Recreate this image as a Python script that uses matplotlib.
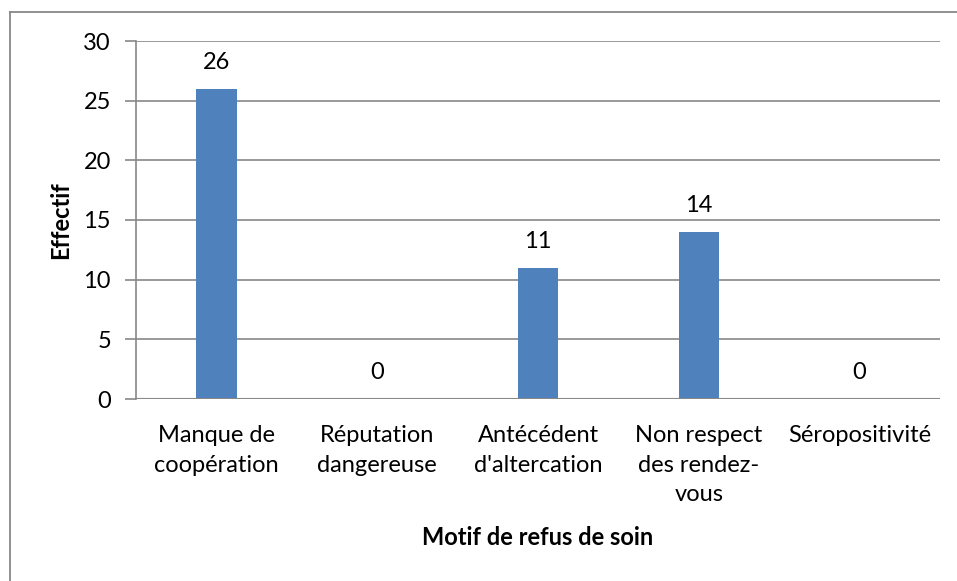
import matplotlib.pyplot as plt
from matplotlib.lines import Line2D

categories = ['Manque de\ncoopération', 'Réputation\ndangereuse', "Antécédent\nd'altercation",
              'Non respect\ndes rendez-\nvous', 'Séropositivité']
effectif = [26, 0, 11, 14, 0]
yticks = [0, 5, 10, 15, 20, 25, 30]

plt.rcParams['font.family'] = ['Lato', 'DejaVu Sans']
fs = 17

W, H = 957, 581
fig = plt.figure(figsize=(W / 100, H / 100), dpi=100)
ax = fig.add_axes([136 / W, 1 - 399 / H, (940 - 136) / W, (399 - 41) / H])

x = list(range(len(categories)))
ax.bar(x, effectif, width=0.25, color='#4F81BD', zorder=3)
for xi, v in zip(x, effectif):
    ax.text(xi, v + 1.3, str(v), ha='center', va='bottom', fontsize=fs)

ax.set_xlim(-0.5, len(categories) - 0.5)
ax.set_ylim(0, 30)
ax.set_yticks(yticks)
ax.set_xticks(x)
ax.set_xticklabels(categories, fontsize=fs, linespacing=1.5)
ax.tick_params(axis='y', labelsize=fs, length=8, width=1.2, color='#888888', pad=10)
ax.tick_params(axis='x', length=0, pad=19)
ax.yaxis.grid(True, color='#888888', linewidth=1.2, zorder=0)

for s in ['top', 'right', 'bottom']:
    ax.spines[s].set_visible(False)
ax.spines['left'].set_color('#888888')
ax.spines['left'].set_linewidth(1.2)
ax.axhline(0, color='#888888', linewidth=1.5, zorder=4)

ax.set_ylabel('Effectif', fontsize=fs, fontweight='bold', labelpad=8)
ax.set_xlabel('Motif de refus de soin', fontsize=fs, fontweight='bold', labelpad=15)

# chart frame (left and top edges)
fig.add_artist(Line2D([9.5 / W, 9.5 / W], [0, 1 - 11.5 / H], transform=fig.transFigure,
                      color='#888888', linewidth=1.3))
fig.add_artist(Line2D([9.5 / W, 1], [1 - 11.5 / H, 1 - 11.5 / H], transform=fig.transFigure,
                      color='#888888', linewidth=1.3))

fig.savefig('out.png', dpi=100)
